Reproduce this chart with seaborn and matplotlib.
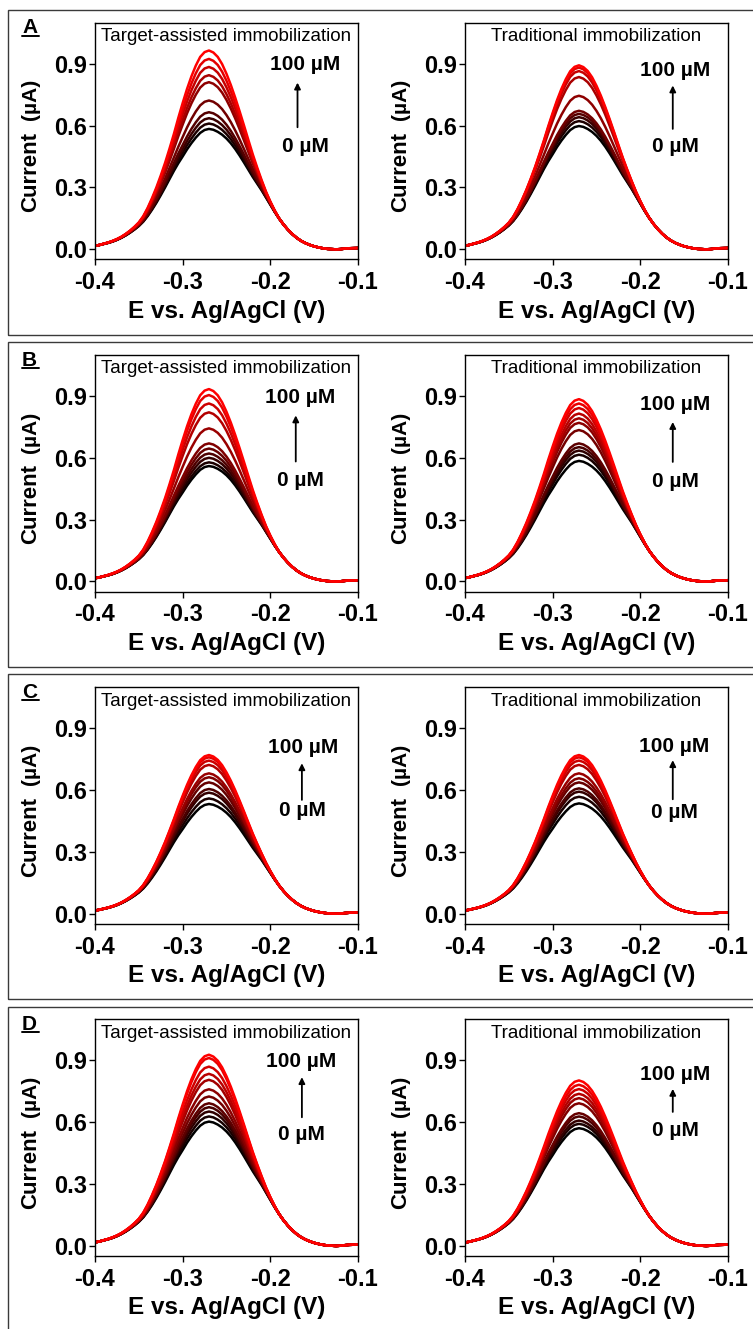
import numpy as np
import pandas as pd
import matplotlib
matplotlib.use("Agg")
import matplotlib.pyplot as plt
from matplotlib.lines import Line2D
from matplotlib.patches import Rectangle
import seaborn as sns

# ---------------------------------------------------------------------------
# Data
# ---------------------------------------------------------------------------
# Potential grid of the DPV scans (V vs. Ag/AgCl), 5 mV steps
potential = [-0.400, -0.395, -0.390, -0.385, -0.380, -0.375, -0.370, -0.365, -0.360, -0.355,
             -0.350, -0.345, -0.340, -0.335, -0.330, -0.325, -0.320, -0.315, -0.310, -0.305,
             -0.300, -0.295, -0.290, -0.285, -0.280, -0.275, -0.270, -0.265, -0.260, -0.255,
             -0.250, -0.245, -0.240, -0.235, -0.230, -0.225, -0.220, -0.215, -0.210, -0.205,
             -0.200, -0.195, -0.190, -0.185, -0.180, -0.175, -0.170, -0.165, -0.160, -0.155,
             -0.150, -0.145, -0.140, -0.135, -0.130, -0.125, -0.120, -0.115, -0.110, -0.105,
             -0.100]

# Peak profile of the blank (0 uM) scan, normalised to its peak current
profile_blank = [0.027, 0.034, 0.043, 0.052, 0.063, 0.077, 0.094, 0.114, 0.137, 0.163,
                 0.192, 0.228, 0.274, 0.327, 0.385, 0.448, 0.514, 0.583, 0.651, 0.714,
                 0.771, 0.830, 0.882, 0.928, 0.967, 0.991, 1.000, 0.993, 0.976, 0.952,
                 0.920, 0.880, 0.832, 0.778, 0.720, 0.660, 0.600, 0.545, 0.490, 0.430,
                 0.370, 0.310, 0.255, 0.205, 0.162, 0.125, 0.094, 0.069, 0.050, 0.035,
                 0.023, 0.014, 0.007, 0.002, 0.000, -0.002, 0.000, 0.004, 0.007, 0.008,
                 0.009]

# Profile of the signal gained on top of the blank, normalised to its peak
profile_gain = [0.000, 0.001, 0.003, 0.005, 0.008, 0.010, 0.013, 0.019, 0.026, 0.035,
                0.047, 0.070, 0.105, 0.148, 0.196, 0.252, 0.314, 0.388, 0.471, 0.578,
                0.681, 0.771, 0.851, 0.918, 0.969, 0.993, 1.000, 0.985, 0.955, 0.900,
                0.825, 0.742, 0.654, 0.563, 0.471, 0.378, 0.288, 0.205, 0.131, 0.075,
                0.039, 0.016, 0.000, 0.000, 0.000, 0.000, 0.000, 0.000, 0.000, 0.000,
                0.000, 0.000, 0.000, 0.000, 0.000, 0.000, 0.000, 0.000, 0.000, 0.000,
                0.000]

# Peak currents (uA), from 0 uM up to 100 uM
peaks_A_target = [0.584, 0.610, 0.636, 0.665, 0.722, 0.811, 0.845, 0.885, 0.924, 0.965]
peaks_A_trad = [0.598, 0.622, 0.641, 0.657, 0.672, 0.745, 0.836, 0.865, 0.882, 0.893]
peaks_B_target = [0.560, 0.578, 0.600, 0.621, 0.645, 0.670, 0.743, 0.821, 0.864, 0.905, 0.934]
peaks_B_trad = [0.585, 0.615, 0.635, 0.652, 0.670, 0.735, 0.770, 0.792, 0.815, 0.842, 0.864, 0.885]
peaks_C_target = [0.532, 0.559, 0.587, 0.605, 0.637, 0.662, 0.681, 0.722, 0.743, 0.759, 0.770]
peaks_C_trad = [0.535, 0.567, 0.592, 0.608, 0.637, 0.657, 0.681, 0.722, 0.743, 0.759, 0.770]
peaks_D_target = [0.603, 0.628, 0.652, 0.673, 0.692, 0.725, 0.760, 0.806, 0.835, 0.870, 0.912, 0.928]
peaks_D_trad = [0.571, 0.592, 0.608, 0.628, 0.644, 0.692, 0.717, 0.738, 0.761, 0.782, 0.803]

row_letters = ["A", "B", "C", "D"]
panel_titles = ["Target-assisted immobilization", "Traditional immobilization"]
row_peaks = [(peaks_A_target, peaks_A_trad),
             (peaks_B_target, peaks_B_trad),
             (peaks_C_target, peaks_C_trad),
             (peaks_D_target, peaks_D_trad)]

x_ticks = [-0.4, -0.3, -0.2, -0.1]
x_ticklabels = ["-0.4", "-0.3", "-0.2", "-0.1"]
y_ticks = [0.0, 0.3, 0.6, 0.9]
y_ticklabels = ["0.0", "0.3", "0.6", "0.9"]

# Concentration annotation placement per panel (data coords):
# (x text, y "100 uM", x arrow, arrow start, arrow end, y "0 uM")
annot = [
    [(-0.160, 0.897, -0.169, 0.592, 0.809, 0.500), (-0.160, 0.869, -0.163, 0.584, 0.795, 0.500)],
    [(-0.166, 0.893, -0.171, 0.582, 0.806, 0.490), (-0.160, 0.861, -0.163, 0.580, 0.774, 0.487)],
    [(-0.163, 0.805, -0.164, 0.552, 0.730, 0.500), (-0.161, 0.812, -0.163, 0.555, 0.745, 0.490)],
    [(-0.165, 0.895, -0.164, 0.624, 0.819, 0.538), (-0.160, 0.832, -0.163, 0.650, 0.762, 0.558)],
]

# ---------------------------------------------------------------------------
# Figure
# ---------------------------------------------------------------------------
sns.set_theme(style="ticks")
plt.rcParams["font.family"] = ["Liberation Sans", "DejaVu Sans"]
plt.rcParams["axes.unicode_minus"] = False

W, H = 753, 1329
fig = plt.figure(figsize=(W / 100, H / 100), dpi=100)
fig.patch.set_facecolor("white")


def fx(x):
    return x / W


def fy(y):
    return 1 - y / H


E = np.array(potential)
base = np.array(profile_blank)
gain = np.array(profile_gain)

row_step = 332.2
ax_w, ax_h = 263.0, 236.7

for r in range(4):
    top = 22.7 + row_step * r
    bottom = top + ax_h

    # frame around the row
    box_top = 10 + row_step * r
    fig.add_artist(Rectangle((fx(8), fy(box_top + 325)), (760 - 8) / W, 325 / H,
                             transform=fig.transFigure, fill=False,
                             lw=1.0, ec="#3a3a3a"))
    # panel letter, underlined
    fig.text(fx(22), fy(box_top + 23.3), row_letters[r], fontsize=15,
             fontweight="bold", ha="left", va="baseline", color="black")
    fig.add_artist(Line2D([fx(22), fx(38.5)], [fy(box_top + 25.5), fy(box_top + 25.5)],
                          transform=fig.transFigure, lw=1.4, color="black"))

    for c in range(2):
        left = 95 + 370 * c
        ax = fig.add_axes([fx(left), fy(bottom), ax_w / W, ax_h / H])

        peaks = row_peaks[r][c]
        p0 = peaks[0]
        rows = []
        for k, p in enumerate(peaks):
            current = p0 * base + (p - p0) * gain
            rows.append(pd.DataFrame({"E": E, "I": current, "curve": k}))
        df = pd.concat(rows, ignore_index=True)
        n = len(peaks)
        palette = [(k / (n - 1), 0.0, 0.0) for k in range(n)]

        sns.lineplot(data=df, x="E", y="I", hue="curve", palette=palette,
                     estimator=None, sort=False, legend=False, lw=1.8, ax=ax)

        ax.set_xlim(-0.4, -0.1)
        ax.set_ylim(-0.05, 1.1)
        ax.set_xticks(x_ticks)
        ax.set_xticklabels(x_ticklabels, fontsize=17, fontweight="bold")
        ax.set_yticks(y_ticks)
        ax.set_yticklabels(y_ticklabels, fontsize=17, fontweight="bold")
        ax.tick_params(axis="both", direction="out", length=4.5, width=1.0,
                       color="black", labelcolor="black")
        ax.tick_params(axis="x", pad=4)
        ax.tick_params(axis="y", pad=1.5)
        for sp in ax.spines.values():
            sp.set_visible(True)
            sp.set_linewidth(1.0)
            sp.set_color("black")
        ax.set_xlabel("")
        ax.set_ylabel("")
        ax.set_facecolor("white")

        ax.text(0.5, 1 - 14 / ax_h, panel_titles[c], transform=ax.transAxes,
                ha="center", va="center", fontsize=13.5, color="black")

        xt, y100, xa, ya0, ya1, y0 = annot[r][c]
        ax.text(xt, y100, "100 µM", ha="center", va="center", fontsize=15,
                fontweight="bold", color="black")
        ax.text(xt, y0, "0 µM", ha="center", va="center", fontsize=15,
                fontweight="bold", color="black")
        ax.annotate("", xy=(xa, ya1), xytext=(xa, ya0),
                    arrowprops=dict(arrowstyle="-|>", color="black", lw=1.3,
                                    mutation_scale=9, shrinkA=0, shrinkB=0))

        # axis titles
        fig.text(fx(left + ax_w / 2), fy(top + 288.5), "E vs. Ag/AgCl (V)",
                 ha="center", va="center", fontsize=17.5, fontweight="bold",
                 color="black")
        fig.text(fx(left - 59), fy(top + 149.5), "Current", rotation=90,
                 rotation_mode="anchor", ha="center", va="baseline",
                 fontsize=16, fontweight="bold", color="black")
        fig.text(fx(left - 59), fy(top + 77), "(µA)", rotation=90,
                 rotation_mode="anchor", ha="center", va="baseline",
                 fontsize=15, fontweight="bold", color="black")

fig.savefig("out.png", dpi=100, facecolor="white")
